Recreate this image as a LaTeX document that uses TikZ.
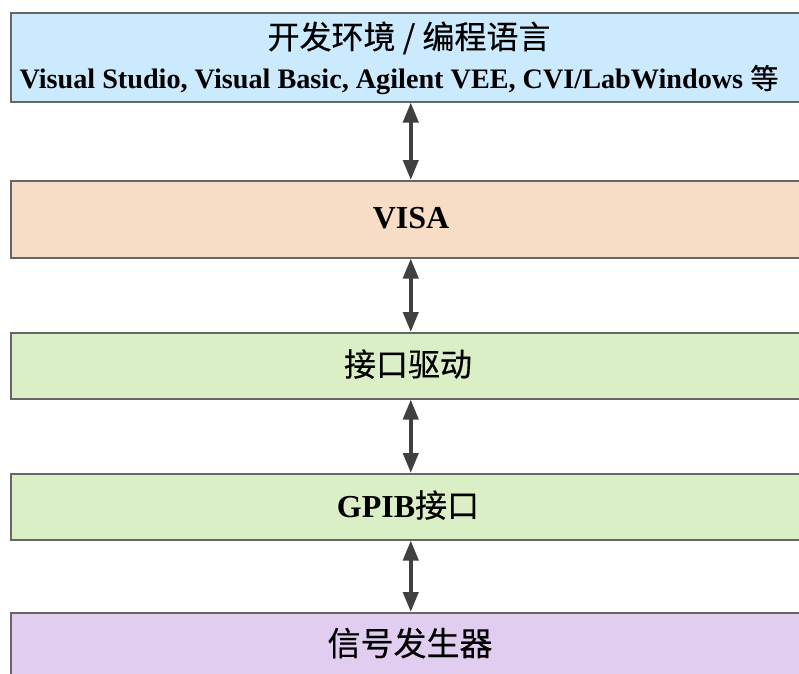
\documentclass[tikz,border=0pt]{standalone}
\usepackage{fontspec}
\setmainfont{Liberation Serif}
\newfontfamily\cjk[FakeBold=0.4]{Noto Sans CJK SC}
\usetikzlibrary{arrows.meta}
\definecolor{envblue}{HTML}{CCEAFE}
\definecolor{visapeach}{HTML}{F7DCC6}
\definecolor{drvgreen}{HTML}{DBEFC6}
\definecolor{devlilac}{HTML}{E1CDEF}
\definecolor{bordergray}{HTML}{666666}
\definecolor{arrowgray}{HTML}{404040}
\begin{document}
\begin{tikzpicture}[x=1pt,y=-1pt,
  layer/.style={draw=bordergray, line width=1.5pt, minimum width=800pt, inner sep=0pt, anchor=north west},
  link/.style={{Triangle[width=15pt,length=20pt]}-{Triangle[width=15pt,length=20pt]}, line width=4pt, draw=arrowgray},
  cjkbig/.style={font=\cjk\fontsize{32}{38}\selectfont},
  latbig/.style={font=\bfseries\fontsize{32}{38}\selectfont},
]
\useasboundingbox (0,0) rectangle (799,673);
\clip (0,0) rectangle (799,673);

\node[layer, fill=envblue, minimum height=89pt] (env) at (10,12) {};
\node[layer, fill=visapeach, minimum height=77pt] (visa) at (10,180) {};
\node[layer, fill=drvgreen, minimum height=66pt] (drv) at (10,332) {};
\node[layer, fill=drvgreen, minimum height=66pt] (gpib) at (10,473) {};
\node[layer, fill=devlilac, minimum height=80pt] (dev) at (10,612) {};

\node[font=\cjk\fontsize{32}{38}\selectfont] (envtitle) at (409,38) {开发环境 / 编程语言};
\node[font=\bfseries\fontsize{28.2}{34}\selectfont] (envlist) at (399,80) {Visual Studio, Visual Basic, Agilent VEE, CVI/LabWindows {\cjk\mdseries 等}};
\node[latbig] (visatext) at (411,218) {VISA};
\node[cjkbig] (drvtext) at (408,364) {接口驱动};
\node[latbig] (gpibtext) at (408,505) {GPIB{\cjk\mdseries 接口}};
\node[font=\cjk\fontsize{33}{39}\selectfont] (devtext) at (410,643) {信号发生器};

\draw[link] (env.south) -- (visa.north);
\draw[link] (visa.south) -- (drv.north);
\draw[link] (drv.south) -- (gpib.north);
\draw[link] (gpib.south) -- (dev.north);
\end{tikzpicture}
\end{document}
